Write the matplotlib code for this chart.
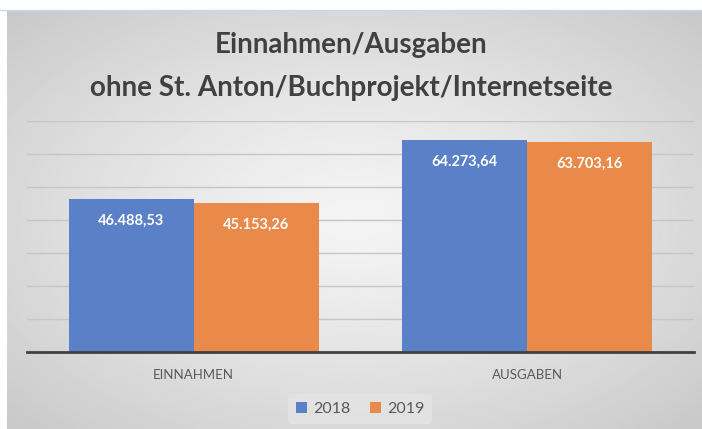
import numpy as np
import matplotlib
matplotlib.use("Agg")
import matplotlib.pyplot as plt
from matplotlib.patches import Rectangle

plt.rcParams['font.family'] = ['Lato', 'DejaVu Sans']

# data
kategorien = ["EINNAHMEN", "AUSGABEN"]
jahre = ["2018", "2019"]
werte_2018 = [46488.53, 64273.64]
werte_2019 = [45153.26, 63703.16]
labels_2018 = ["46.488,53", "64.273,64"]
labels_2019 = ["45.153,26", "63.703,16"]

blau = "#5a80c8"
orange = "#e9894a"

fig = plt.figure(figsize=(7.02, 4.29), dpi=100)
W, H = 702, 429

# hintergrund mit radialem verlauf
bg = fig.add_axes([7 / W, 0, 1 - 7 / W, 1 - 10 / H], zorder=0)
yy, xx = np.mgrid[-1:1:200j, -1:1:300j]
r = np.sqrt(xx ** 2 + yy ** 2) / np.sqrt(2)
grad = 0.955 - 0.17 * r ** 1.3
bg.imshow(grad, cmap="gray", vmin=0, vmax=1, aspect="auto", extent=[0, 1, 0, 1])
bg.axis("off")
fig.add_artist(plt.Line2D([0, 1], [1 - 10 / H, 1 - 10 / H], color="#c9d8ee", lw=1))

ax = fig.add_axes([27 / W, 77 / H, 667 / W, 231 / H], zorder=1)
ax.patch.set_alpha(0)

x = np.arange(len(kategorien))
bw = 0.375
b1 = ax.bar(x - bw / 2, werte_2018, bw, color=blau, label=jahre[0], zorder=2)
b2 = ax.bar(x + bw / 2, werte_2019, bw, color=orange, label=jahre[1], zorder=2)

for bars, labs in [(b1, labels_2018), (b2, labels_2019)]:
    for b, t in zip(bars, labs):
        ax.annotate(t, (b.get_x() + b.get_width() / 2, b.get_height()),
                    xytext=(0, -16), textcoords="offset points",
                    ha="center", va="center", color="white",
                    fontsize=10.5, fontweight="bold", zorder=3)

ax.set_xlim(-0.5, 1.5)
ax.set_ylim(0, 70000)
ax.set_yticks(np.arange(10000, 70001, 10000))
ax.yaxis.grid(True, color="#c6c6c6", lw=1)
ax.set_axisbelow(True)
ax.tick_params(left=False, labelleft=False, bottom=False)
for s in ["top", "right", "left"]:
    ax.spines[s].set_visible(False)
ax.spines["bottom"].set_color("#404040")
ax.spines["bottom"].set_linewidth(2)
ax.set_xticks(x)
ax.set_xticklabels(kategorien, fontsize=9.5, color="#595959")
ax.tick_params(axis="x", pad=9)

fig.text(0.5, 1 - 45 / H, "Einnahmen/Ausgaben", ha="center", va="center",
         fontsize=20, fontweight="bold", color="#404040")
fig.text(0.5, 1 - 88 / H, "ohne St. Anton/Buchprojekt/Internetseite", ha="center",
         va="center", fontsize=20, fontweight="bold", color="#404040")

leg = fig.legend(handles=[b1, b2], labels=jahre, loc="center",
                 bbox_to_anchor=(360 / W, 1 - 409 / H), ncol=2, frameon=True,
                 fontsize=11.5, handlelength=0.7, handleheight=0.7,
                 handletextpad=0.4, columnspacing=1.2, borderpad=0.5)
leg.get_frame().set_facecolor("#e4e4e4")
leg.get_frame().set_edgecolor("none")
leg.get_frame().set_alpha(0.8)
for t in leg.get_texts():
    t.set_color("#595959")

fig.savefig("out.png", dpi=100)
